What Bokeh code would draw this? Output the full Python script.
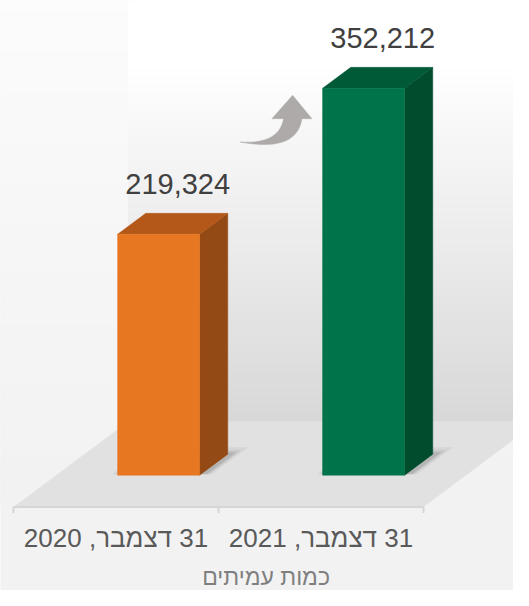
import numpy as np
from bokeh.plotting import figure
from bokeh.models import Range1d
from bokeh.embed import file_html
from bokeh.resources import INLINE
from bokeh.core.properties import value

# ---------------- data ----------------
categories = ["31 דצמבר, 2020", "31 דצמבר, 2021"]
members = [219324, 352212]
value_labels = ["219,324", "352,212"]
axis_title = "כמות עמיתים"

front_colors = ["#E87722", "#00734A"]
top_colors = ["#B45819", "#005A37"]
side_colors = ["#944A14", "#004C2D"]

# ---------------- layout constants (pixels / scale) ----------------
W, H = 513, 590
XPX = 205.0          # pixels per category slot
VPX = 910.5          # members per pixel
BAR_W = 0.4          # bar width in slot units
DEPTH = 21.0         # bar depth (px)
FRONT_GAP = 31.8     # floor front edge -> bar front (px of depth)
FLOOR_D = 85.8       # total floor depth (px)
SLANT = 1.34         # horizontal px per px of depth
BASE_PX = 474.7      # canvas px of the bar baseline (from top)
LEFT_PX = 13.0       # canvas px left of the first slot boundary
FONT = "Liberation Sans"
RLM = "\u200f"


def proj(x, v, d):
    """3D (slot x, value v, depth d px from floor front) -> data coords."""
    return x + d * SLANT / XPX, v + (d - FRONT_GAP) * VPX


x0 = -LEFT_PX / XPX
x1 = x0 + W / XPX
y1 = BASE_PX * VPX
y0 = y1 - H * VPX

p = figure(width=W, height=H, x_range=Range1d(x0, x1), y_range=Range1d(y0, y1),
           output_backend="svg", toolbar_location=None,
           x_axis_location=None, y_axis_location=None, min_border=0)
p.grid.visible = False
p.outline_line_color = None
p.background_fill_color = "#f2f2f2"
p.border_fill_color = "#f2f2f2"


def mix(c_a, c_b, t):
    a = np.array([int(c_a[i:i + 2], 16) for i in (1, 3, 5)], float)
    b = np.array([int(c_b[i:i + 2], 16) for i in (1, 3, 5)], float)
    c = a + (b - a) * t
    return "#%02x%02x%02x" % tuple(int(round(v)) for v in c)


# ---- page background gradient (light) ----
floor_front_y = proj(0, 0, 0)[1]
floor_back_x, floor_back_y = proj(0, 0, FLOOR_D)
N = 50
edges = np.linspace(floor_front_y, y1, N + 1)
bg_cols = [mix("#f2f2f2", "#fcfcfc", (k / N) ** 1.3) for k in range(N)]
p.quad(left=x0, right=x1, bottom=edges[:-1], top=edges[1:],
       fill_color=bg_cols, line_color=bg_cols)

# ---- back wall gradient ----
edges = np.linspace(floor_back_y, y1, N + 1)
cols = []
for k in range(N):
    t = (k + 0.5) / N
    t2 = min(1.0, t / 0.86)
    cols.append(mix("#d8d8d8", "#ffffff", t2))
p.quad(left=floor_back_x, right=x1 + 1, bottom=edges[:-1], top=edges[1:],
       fill_color=cols, line_color=cols)

# ---- floor ----
n_cat = len(categories)
corners = [proj(0, 0, 0), proj(n_cat, 0, 0), proj(n_cat, 0, FLOOR_D), proj(0, 0, FLOOR_D)]
p.patch([q[0] for q in corners], [q[1] for q in corners], fill_color="#e1e1e1", line_color=None)

# ---- axis line and tick marks at slot boundaries ----
p.segment(x0=[0], y0=[floor_front_y], x1=[n_cat], y1=[floor_front_y],
          line_color="#d6d6d6", line_width=2)
ticks = list(range(n_cat + 1))
p.segment(x0=ticks, y0=[floor_front_y] * len(ticks), x1=ticks,
          y1=[floor_front_y - 6 * VPX] * len(ticks), line_color="#d6d6d6", line_width=2)

# ---- bar shadows ----
for k, a in [(7, 0.05), (4, 0.07), (2, 0.09)]:
    sxs, sys_ = [], []
    for i, v in enumerate(members):
        xl = i + 0.5 - BAR_W / 2 - k / XPX
        xr = i + 0.5 + BAR_W / 2 + (k + 4) / XPX
        d0, d1 = FRONT_GAP + 1, FRONT_GAP + DEPTH + k
        pts = [proj(xl, 0, d0), proj(xr, 0, d0), proj(xr, 0, d1), proj(xl, 0, d1)]
        sxs.append([q[0] for q in pts])
        sys_.append([q[1] for q in pts])
    p.patches(sxs, sys_, fill_color="black", fill_alpha=a, line_color=None)

# ---- 3D bars ----
front_x, front_y, top_x, top_y, side_x, side_y = [], [], [], [], [], []
for i, v in enumerate(members):
    xl = i + 0.5 - BAR_W / 2
    xr = i + 0.5 + BAR_W / 2
    d0, d1 = FRONT_GAP, FRONT_GAP + DEPTH
    fr = [proj(xl, 0, d0), proj(xr, 0, d0), proj(xr, v, d0), proj(xl, v, d0)]
    tp = [proj(xl, v, d0), proj(xr, v, d0), proj(xr, v, d1), proj(xl, v, d1)]
    sd = [proj(xr, 0, d0), proj(xr, 0, d1), proj(xr, v, d1), proj(xr, v, d0)]
    front_x.append([q[0] for q in fr]); front_y.append([q[1] for q in fr])
    top_x.append([q[0] for q in tp]); top_y.append([q[1] for q in tp])
    side_x.append([q[0] for q in sd]); side_y.append([q[1] for q in sd])

p.patches(side_x, side_y, fill_color=side_colors, line_color=side_colors, line_width=0.5)
p.patches(top_x, top_y, fill_color=top_colors, line_color=top_colors, line_width=0.5)
p.patches(front_x, front_y, fill_color=front_colors, line_color=front_colors, line_width=0.5)

# ---- value labels ----
lab_x = [proj(i + 0.5, 0, FRONT_GAP + DEPTH / 2)[0] + 5 / XPX for i in range(n_cat)]
lab_y = [proj(0, v, FRONT_GAP + DEPTH)[1] + 29 * VPX for v in members]
p.text(x=lab_x, y=lab_y, text=value_labels, text_align="center",
       text_baseline="alphabetic", text_font=value(FONT), text_font_size="29px",
       text_color="#404040")

# ---- curved growth arrow (anchored to the taller bar) ----
j = int(np.argmax(members))
tip_x, tip_y = proj(j + 0.5 - BAR_W / 2, members[j], FRONT_GAP)
tip_x -= 30 / XPX
tip_y -= 7 * VPX


def qbez(a, c, b, n=16):
    t = np.linspace(0, 1, n)[:, None]
    a, c, b = map(np.array, (a, c, b))
    return (1 - t) ** 2 * a + 2 * (1 - t) * t * c + t ** 2 * b


T = (-52.4, 46.6)
R = (9.3, 23.3)
L = (-9.0, 23.3)
lower = qbez(R, (4.3, 57.3), T)
upper = qbez(T, (-13.7, 49.3), L)
pts = [(0, 0), (19.3, 23.3)] + [tuple(q) for q in lower] + [tuple(q) for q in upper[1:]] + [(-20.7, 23.3)]
ax = [tip_x + q[0] / XPX for q in pts]
ay = [tip_y - q[1] * VPX for q in pts]
p.patch(ax, ay, fill_color="#aeaaaa", line_color="#aeaaaa", line_width=0.5)

# ---- category labels and axis title ----
cat_y = floor_front_y - 30.5 * VPX
p.text(x=[i + 0.5 for i in range(n_cat)], y=[cat_y] * n_cat,
       text=[RLM + c for c in categories], text_align="center",
       text_baseline="alphabetic", text_font=value(FONT), text_font_size="26px",
       text_color="#595959")

TITLE_X = 1.232
p.text(x=[TITLE_X], y=[floor_front_y - 70 * VPX], text=[axis_title],
       text_align="center", text_baseline="alphabetic", text_font=value(FONT),
       text_font_size="23px", text_color="#7f7f7f")

open("out.html", "w").write(file_html(p, INLINE))
